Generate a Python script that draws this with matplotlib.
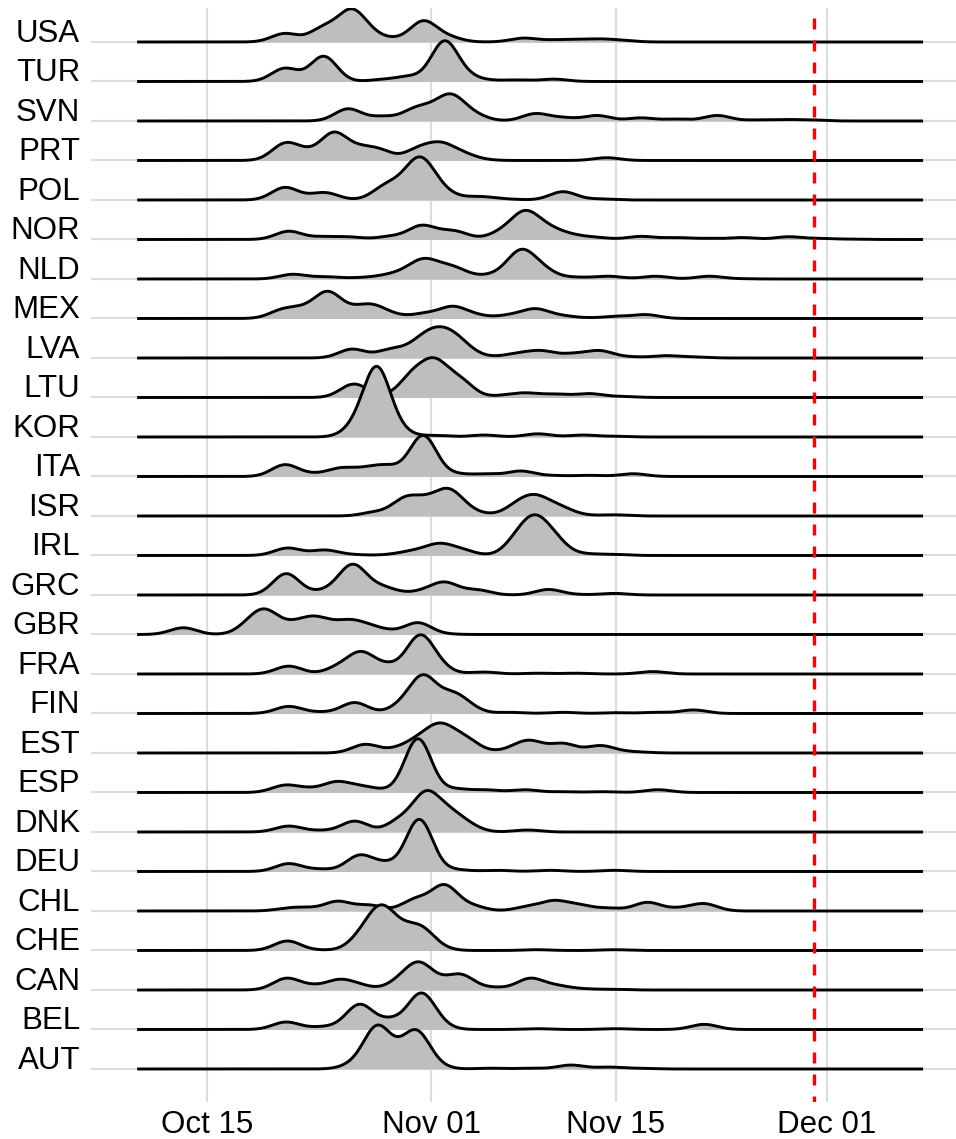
"""
Ridgeline chart: distribution of dates per country, Oct-Dec, with a dashed
deadline marker on Nov 30.
Output: out.png (956x1139)
"""
import numpy as np
import matplotlib
matplotlib.use("Agg")
import matplotlib.pyplot as plt
import matplotlib.dates as mdates

plt.rcParams.update({
    "font.family": ["Liberation Sans", "DejaVu Sans"],
    "font.size": 22.5,
})

# ---- data -----------------------------------------------------------------
# day offsets are counted from Oct 15; heights are in row units
START = np.datetime64("2020-10-15")
FIRST_DAY, LAST_DAY = -5.3, 54.3
DEADLINE_DAY = 46            # Nov 30
BANDWIDTH = 1.0              # joint kernel bandwidth (days)

TICK_DAYS = [0, 17, 31, 47]  # Oct 15, Nov 01, Nov 15, Dec 01

# rows from top to bottom
COUNTRIES = ["USA", "TUR", "SVN", "PRT", "POL", "NOR", "NLD", "MEX", "LVA",
             "LTU", "KOR", "ITA", "ISR", "IRL", "GRC", "GBR", "FRA", "FIN",
             "EST", "ESP", "DNK", "DEU", "CHL", "CHE", "CAN", "BEL", "AUT"]

# (day, height)
USA = [(5.9, .22), (7.5, .20), (8.8, .43), (9.8, .62), (10.85, .84), (12.1, .55),
       (13.95, .14), (16.4, .54), (18.3, .20), (24.0, .10), (26.3, .06),
       (28.0, .07), (29.8, .08), (31.5, .05)]
TUR = [(5.9, .34), (7.3, .32), (8.85, .64), (13.3, .06), (15.3, .15), (18.0, 1.03),
       (19.6, .40), (21.3, .06), (23.5, .04), (26.3, .06)]
SVN = [(10.7, .31), (13.3, .13), (15.8, .36), (17.3, .54), (18.6, .68), (20.3, .27),
       (21.7, .05), (24.9, .19), (27.0, .10), (29.6, .14), (32.9, .08), (35.6, .05),
       (38.7, .14), (41.8, .03), (43.8, .04), (45.8, .03)]
PRT = [(5.9, .45), (7.5, .35), (9.6, .72), (11.5, .42), (13.1, .31), (14.5, .17),
       (16.0, .36), (17.7, .47), (19.3, .26), (20.7, .08), (30.3, .07)]
POL = [(5.9, .32), (7.7, .17), (9.0, .19), (11.4, .03), (13.5, .42), (15.0, .80),
       (16.2, 1.09), (17.5, .62), (18.9, .17), (20.8, .09), (22.8, .03),
       (27.0, .21), (29.8, .03)]
NOR = [(6.2, .21), (8.8, .08), (10.8, .07), (12.7, .04), (13.9, .10), (16.2, .36),
       (17.6, .28), (18.9, .22), (20.9, .09), (22.3, .30), (24.0, .73), (25.3, .55),
       (26.6, .28), (28.0, .13), (29.6, .06), (32.9, .08), (35.5, .05), (37.9, .03),
       (40.6, .05), (44.1, .07), (46.5, .03), (49.0, .01)]
NLD = [(6.5, .12), (9.0, .06), (11.5, .04), (13.5, .12), (15.0, .30), (16.4, .52),
       (17.75, .43), (18.9, .31), (20.9, .12), (22.3, .32), (23.8, .75), (25.3, .45),
       (26.5, .16), (28.2, .05), (30.5, .07), (34.0, .07), (38.1, .07), (40.5, .01)]
MEX = [(5.7, .25), (7.3, .36), (9.15, .69), (11.0, .37), (12.5, .36), (14.0, .20),
       (15.0, .07), (16.5, .16), (18.6, .31), (20.3, .15), (21.7, .06), (23.0, .12),
       (24.9, .25), (26.8, .10), (28.5, .03), (31.0, .06), (33.3, .10), (35.0, .02)]
LVA = [(11.0, .23), (12.5, .14), (13.8, .24), (15.2, .36), (16.5, .66), (17.75, .79),
       (18.9, .62), (19.9, .33), (21.7, .06), (23.6, .14), (25.4, .19), (27.8, .13),
       (29.8, .19), (32.1, .04), (34.8, .06), (37.0, .03)]
LTU = [(11.1, .34), (12.6, .15), (14.0, .18), (15.6, .72), (17.3, 1.00), (19.2, .55),
       (20.3, .22), (21.3, .08), (22.8, .08), (24.3, .12), (26.5, .09), (29.0, .10),
       (31.5, .03)]
KOR = [(10.2, .12), (11.3, .75), (12.87, 1.78), (14.3, .77), (15.5, .15), (17.5, .04),
       (21.0, .05), (25.1, .08), (28.5, .05), (31.0, .02)]
ITA = [(5.9, .30), (7.9, .11), (10.0, .22), (11.6, .24), (13.1, .30), (14.3, .33),
       (16.4, 1.04), (18.9, .11), (21.2, .07), (23.8, .14), (26.3, .03), (29.0, .03),
       (32.3, .07)]
ISR = [(12.7, .14), (13.9, .22), (15.0, .52), (16.6, .54), (18.3, .70), (19.7, .35),
       (21.4, .08), (23.6, .41), (25.0, .54), (26.7, .30), (28.2, .09), (30.9, .03)]
IRL = [(6.1, .19), (7.9, .12), (9.0, .14), (11.2, .03), (14.3, .06), (15.8, .16),
       (17.6, .31), (19.3, .19), (21.2, .03), (23.6, .70), (24.9, 1.03), (26.3, .65),
       (27.6, .20), (29.0, .05), (31.0, .03)]
GRC = [(6.0, .54), (8.3, .14), (9.7, .40), (11.05, .78), (12.3, .48), (13.5, .23),
       (15.6, .10), (16.8, .22), (18.1, .33), (20.5, .14), (22.4, .02), (25.9, .14),
       (28.2, .02), (30.9, .04)]
GBR = [(-1.8, .17), (1.0, .02), (2.2, .15), (3.3, .48), (4.5, .64), (6.5, .38),
       (8.1, .47), (9.6, .38), (11.0, .38), (12.5, .25), (13.9, .14), (16.0, .30),
       (18.0, .05)]
FRA = [(6.2, .20), (8.6, .05), (10.0, .29), (11.7, .57), (13.7, .31), (15.0, .58),
       (16.1, .99), (17.4, .58), (18.9, .09), (21.0, .05), (25.1, .02), (28.0, .02),
       (33.8, .06)]
FIN = [(6.2, .18), (8.6, .05), (11.2, .28), (13.4, .07), (14.8, .45), (16.4, .98),
       (18.5, .58), (19.7, .36), (20.9, .10), (23.0, .03), (27.0, .03), (31.0, .02),
       (34.0, .03), (36.9, .09)]
EST = [(12.0, .22), (13.9, .14), (15.0, .26), (16.4, .56), (17.8, .76), (19.5, .47),
       (20.9, .18), (21.9, .07), (23.4, .24), (24.6, .32), (27.0, .25), (29.8, .19),
       (31.3, .09), (32.8, .03)]
ESP = [(5.9, .19), (7.7, .14), (9.8, .28), (11.6, .19), (13.1, .11), (16.0, 1.36),
       (18.9, .11), (21.2, .07), (24.1, .07), (27.0, .02), (30.0, .02), (34.2, .07)]
DNK = [(6.2, .15), (8.6, .05), (11.2, .28), (13.5, .11), (14.65, .45), (16.6, 1.04),
       (18.3, .68), (19.7, .32), (21.0, .08), (24.3, .05)]
DEU = [(6.2, .20), (8.6, .07), (11.55, .42), (13.5, .28), (16.1, 1.32), (18.9, .07),
       (22.0, .03), (26.0, .03), (30.9, .03)]
CHL = [(6.1, .08), (7.5, .10), (9.9, .25), (12.3, .16), (13.9, .08), (15.8, .34),
       (18.0, .67), (20.1, .19), (22.0, .02), (24.3, .13), (26.3, .27), (28.2, .18),
       (30.5, .08), (33.4, .22), (35.8, .10), (37.7, .19), (39.5, .03)]
CHE = [(6.1, .24), (8.6, .03), (10.4, .11), (11.75, .66), (13.2, 1.15), (14.7, .82),
       (16.2, .64), (17.4, .31), (18.4, .08), (25.0, .02), (30.9, .02)]
CAN = [(6.0, .30), (7.9, .16), (10.0, .27), (11.55, .18), (13.1, .08), (14.65, .42),
       (16.1, .71), (17.75, .40), (19.3, .40), (21.8, .08), (24.5, .30), (26.5, .14),
       (28.5, .04), (30.9, .02)]
BEL = [(6.0, .19), (8.6, .08), (10.3, .32), (11.6, .64), (13.9, .32), (16.2, .92),
       (17.4, .55), (18.9, .04), (25.0, .02), (31.0, .02), (37.7, .13)]
AUT = [(11.2, .35), (12.9, 1.11), (14.5, .82), (15.9, .99), (17.3, .40), (18.7, .04),
       (21.5, .02), (24.5, .02), (27.6, .10), (30.5, .05), (33.0, .02)]

RIDGES = {"USA": USA, "TUR": TUR, "SVN": SVN, "PRT": PRT, "POL": POL, "NOR": NOR,
          "NLD": NLD, "MEX": MEX, "LVA": LVA, "LTU": LTU, "KOR": KOR, "ITA": ITA,
          "ISR": ISR, "IRL": IRL, "GRC": GRC, "GBR": GBR, "FRA": FRA, "FIN": FIN,
          "EST": EST, "ESP": ESP, "DNK": DNK, "DEU": DEU, "CHL": CHL, "CHE": CHE,
          "CAN": CAN, "BEL": BEL, "AUT": AUT}


def kernel(a, b):
    return np.exp(-0.5 * ((a[:, None] - b[None, :]) / BANDWIDTH) ** 2)


def nnls(K, h, n_iter=6000):
    # projected gradient, good enough for these tiny systems
    w = np.clip(np.linalg.lstsq(K, h, rcond=None)[0], 0, None)
    step = 1.0 / np.linalg.norm(K, 2) ** 2
    for _ in range(n_iter):
        w = np.clip(w - step * (K.T @ (K @ w - h)), 0, None)
    return w


def ridge_curve(points, days):
    d = np.array([p[0] for p in points], dtype=float)
    h = np.array([p[1] for p in points], dtype=float)
    w = nnls(kernel(d, d), h)
    return kernel(days, d) @ w


# ---- plot -----------------------------------------------------------------
W, H = 956, 1139
fig = plt.figure(figsize=(W / 100, H / 100), dpi=100)
ax = fig.add_axes([90.7 / W, 1 - 1101.7 / H, 1 - 90.7 / W, (1101.7 - 8.3) / H])

base = mdates.date2num(START)
days = np.linspace(FIRST_DAY, LAST_DAY, 1500)
x = base + days
n = len(COUNTRIES)

for i, c in enumerate(COUNTRIES):
    y0 = n - i
    y = y0 + ridge_curve(RIDGES[c], days)
    ax.fill_between(x, y0, y, color="#BEBEBE", lw=0, zorder=10 + 2 * i)
    ax.plot(x, y, color="black", lw=2.1, solid_joinstyle="round",
            solid_capstyle="butt", zorder=11 + 2 * i)

ax.axvline(base + DEADLINE_DAY, color="#FF0000", lw=2.4,
           ls=(1.5, (3.3, 3.3)), zorder=200)

ax.set_xlim(base - 8.82, base + 56.8)
ax.set_ylim(0.172, 27.853)

ax.set_xticks([base + t for t in TICK_DAYS])
ax.xaxis.set_major_formatter(mdates.DateFormatter("%b %d"))
ax.set_yticks(range(n, 0, -1))
ax.set_yticklabels(COUNTRIES)
for lab in ax.get_yticklabels():
    lab.set_va("baseline")

ax.tick_params(axis="both", length=0, labelsize=22.5, colors="black")
ax.tick_params(axis="y", pad=7.7)
ax.tick_params(axis="x", pad=6.0)
ax.grid(True, color="#DCDCDC", lw=1.5, zorder=0)
ax.set_axisbelow(True)
for s in ax.spines.values():
    s.set_visible(False)

fig.savefig("out.png", dpi=100)
